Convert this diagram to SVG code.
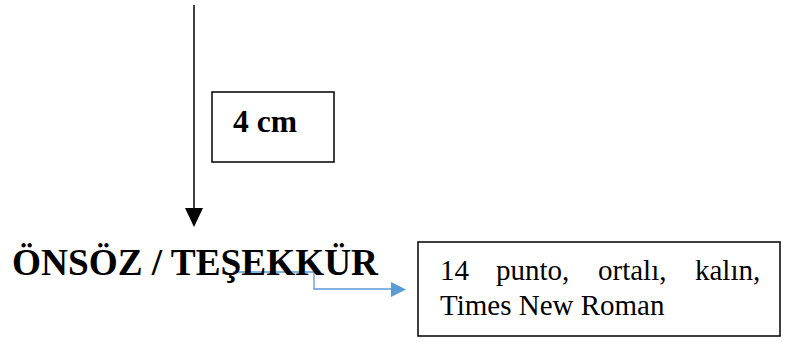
<svg xmlns="http://www.w3.org/2000/svg" width="791" height="345" viewBox="0 0 791 345">
<style>
.box{fill:#fff;stroke:#000;stroke-width:1.5}
.t{font-family:"Liberation Serif","Times New Roman",serif;fill:#000}
.b{font-weight:bold}
</style>
<rect width="791" height="345" fill="#fff"/>
<g id="connectors">
<line x1="194" y1="5" x2="194" y2="209" stroke="#000" stroke-width="1.5"/>
<polygon points="185,208 203,208 194,227" fill="#000"/>
<polyline points="233,272 314,272 314,289 392,289" fill="none" stroke="#5B9BD5" stroke-width="1.3"/>
<polygon points="391,282 406,289.5 391,297" fill="#5B9BD5"/>
</g>
<g id="dim">
<rect class="box" x="212" y="92" width="122" height="70"/>
<text class="t b" x="233" y="132" font-size="31" textLength="64" lengthAdjust="spacingAndGlyphs">4 cm</text>
</g>
<g id="title">
<text class="t b" x="12" y="275" font-size="37" textLength="366" lengthAdjust="spacingAndGlyphs">ÖNSÖZ / TEŞEKKÜR</text>
</g>
<g id="note">
<rect class="box" x="418" y="242" width="362" height="94"/>
<text class="t" font-size="29" y="280"><tspan x="440">14</tspan><tspan x="496">punto,</tspan><tspan x="598">ortalı,</tspan><tspan x="695">kalın,</tspan></text>
<text class="t" font-size="29" x="440" y="315">Times New Roman</text>
</g>
</svg>
